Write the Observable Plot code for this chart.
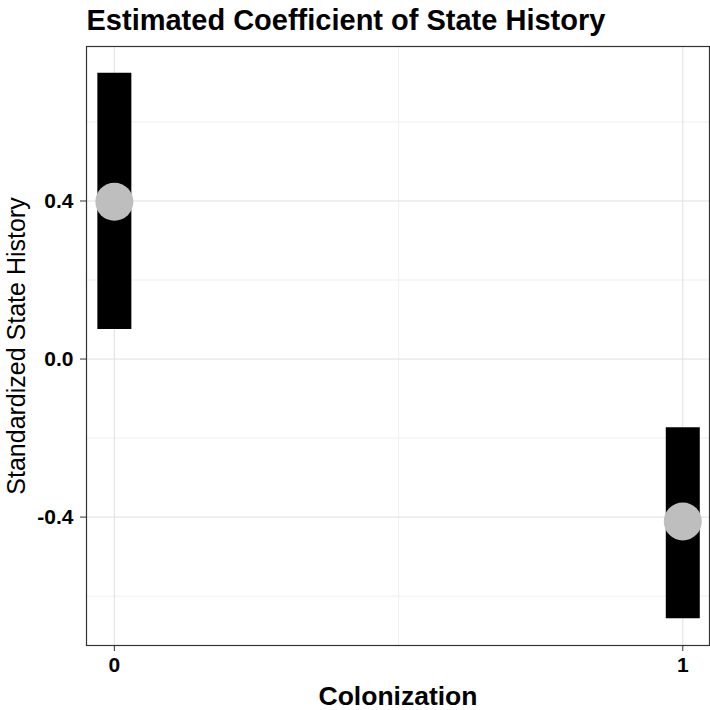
<!DOCTYPE html>
<html>
<head>
<meta charset="utf-8">
<script src="https://cdn.jsdelivr.net/npm/d3@7"></script>
<script src="https://cdn.jsdelivr.net/npm/@observablehq/plot@0.6"></script>
<style>
  body { margin: 0; background: white; }
</style>
</head>
<body>
<div id="chart"></div>
<script>
const colonization = [0, 1];
const estimates = [0.398, -0.411];
const lower = [0.075, -0.657];
const upper = [0.723, -0.174];
const yTicks = [-0.4, 0, 0.4];
const yMinor = [-0.6, -0.2, 0.2, 0.6];
const xTicks = [0, 1];
const xMinor = [0.5];
const title = "Estimated Coefficient of State History";
const xLabel = "Colonization";
const yLabel = "Standardized State History";

const data = colonization.map((c, i) => ({x: c, est: estimates[i], lo: lower[i], hi: upper[i]}));

const font = "'Liberation Sans', Arial, Helvetica, sans-serif";

const chart = Plot.plot({
  width: 710,
  height: 710,
  marginTop: 46,
  marginBottom: 65,
  marginLeft: 86,
  marginRight: 1,
  x: {domain: [-0.049, 1.047]},
  y: {domain: [-0.725, 0.791]},
  style: {fontFamily: font, background: "white", color: "black"},
  marks: [
    Plot.ruleY(yMinor, {stroke: "#efefef", strokeWidth: 1}),
    Plot.ruleX(xMinor, {stroke: "#efefef", strokeWidth: 1}),
    Plot.ruleY(yTicks, {stroke: "#e0e0e0", strokeWidth: 1}),
    Plot.ruleX(xTicks, {stroke: "#e0e0e0", strokeWidth: 1}),
    Plot.ruleX(data, {x: "x", y1: "lo", y2: "hi", stroke: "black", strokeWidth: 34}),
    Plot.dot(data, {x: "x", y: "est", r: 19, fill: "#bebebe", stroke: null}),
    Plot.frame({stroke: "#333333", strokeWidth: 1.2}),
    Plot.axisY(yTicks, {
      tickSize: 6, tickPadding: 7, tickFormat: d => d.toFixed(1),
      fontSize: 21, fontWeight: "bold", label: null, stroke: "#333333", fill: "black"
    }),
    Plot.axisX(xTicks, {
      tickSize: 6, tickPadding: 6, tickFormat: d => String(d),
      fontSize: 21, fontWeight: "bold", label: null, stroke: "#333333", fill: "black"
    }),
    Plot.text([title], {
      text: d => d, frameAnchor: "top-left", dy: -26, textAnchor: "start", lineAnchor: "middle",
      fontSize: 29, fontWeight: "bold", fill: "black"
    }),
    Plot.text([xLabel], {
      text: d => d, frameAnchor: "bottom", dy: 51, lineAnchor: "middle",
      fontSize: 26.5, fontWeight: "bold", fill: "black"
    }),
    Plot.text([yLabel], {
      text: d => d, frameAnchor: "left", dx: -70, rotate: -90, textAnchor: "middle", lineAnchor: "middle",
      fontSize: 25, fontWeight: "normal", fill: "black"
    })
  ]
});

document.getElementById("chart").appendChild(chart);
</script>
</body>
</html>
